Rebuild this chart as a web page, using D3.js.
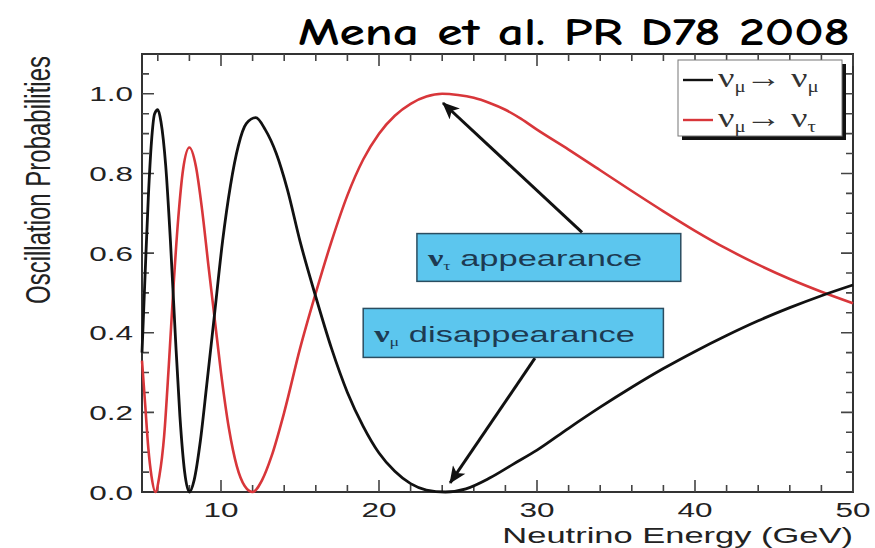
<!DOCTYPE html>
<html>
<head>
<meta charset="utf-8">
<script src="https://cdn.jsdelivr.net/npm/d3@7"></script>
<style>
  body { margin: 0; background: #fff; }
  svg { display: block; }
</style>
</head>
<body>
<svg id="chart" width="875" height="548"></svg>
<script>
// nu_mu -> nu_mu survival probability vs neutrino energy (GeV)
const survivalEnergy = [5.0, 5.2, 5.4, 5.6, 5.8, 6.0, 6.2, 6.5, 6.8, 7.1, 7.4, 7.7, 8.0,
  8.3, 8.7, 9.1, 9.6, 10.1, 10.6, 11.1, 11.6, 12.2, 12.8, 13.5, 14.2, 15.0, 16.0, 17.0,
  18.0, 19.0, 20.0, 21.0, 22.0, 23.0, 24.2, 25.5, 27.0, 28.5, 30.0, 32.0, 34.0, 36.0,
  38.0, 40.0, 42.0, 44.0, 46.0, 48.0, 50.0];
const survivalProb = [0.35, 0.55, 0.74, 0.88, 0.95, 0.96, 0.93, 0.82, 0.63, 0.40, 0.19, 0.05, 0.0,
  0.03, 0.13, 0.27, 0.45, 0.63, 0.77, 0.87, 0.925, 0.94, 0.91, 0.85, 0.76, 0.63, 0.49, 0.36,
  0.25, 0.165, 0.098, 0.052, 0.021, 0.005, 0.0, 0.008, 0.035, 0.07, 0.105, 0.16, 0.213, 0.263,
  0.31, 0.353, 0.393, 0.43, 0.463, 0.493, 0.52];

// nu_mu -> nu_tau appearance probability vs neutrino energy (GeV)
const appearEnergy = [5.0, 5.2, 5.4, 5.6, 5.85, 6.1, 6.4, 6.7, 7.0, 7.3, 7.6, 8.0, 8.4, 8.8,
  9.2, 9.6, 10.0, 10.5, 11.0, 11.5, 12.0, 12.6, 13.2, 14.0, 15.0, 16.0, 17.0, 18.0, 19.0,
  20.0, 21.0, 22.0, 23.0, 24.0, 25.0, 26.0, 27.0, 28.0, 29.0, 30.0, 32.0, 34.0, 36.0, 38.0,
  40.0, 42.0, 44.0, 46.0, 48.0, 50.0];
const appearProb = [0.33, 0.22, 0.11, 0.04, 0.0, 0.04, 0.14, 0.32, 0.52, 0.69, 0.81, 0.865, 0.82, 0.71,
  0.57, 0.435, 0.30, 0.16, 0.065, 0.015, 0.0, 0.03, 0.09, 0.20, 0.36, 0.50, 0.63, 0.745, 0.835,
  0.90, 0.945, 0.975, 0.993, 1.0, 0.997, 0.99, 0.977, 0.96, 0.937, 0.91, 0.86, 0.808, 0.756, 0.705,
  0.656, 0.611, 0.571, 0.535, 0.503, 0.474];

const xMajorTicks = [10, 20, 30, 40, 50];
const xTickLabels = ["10", "20", "30", "40", "50"];
const yMajorTicks = [0, 0.2, 0.4, 0.6, 0.8, 1.0];
const yTickLabels = ["0.0", "0.2", "0.4", "0.6", "0.8", "1.0"];

const W = 875, H = 548;
const margin = { left: 142, right: 22, top: 54, bottom: 56 };
const svg = d3.select("#chart");

const x = d3.scaleLinear().domain([5, 50]).range([margin.left, W - margin.right]);
const y = d3.scaleLinear().domain([0, 1.1]).range([H - margin.bottom, margin.top]);

const SANS = "'Liberation Sans', Arial, Helvetica, sans-serif";
const SERIF = "'Liberation Serif', 'Times New Roman', serif";
const STRETCH = 1.5;   // wide lettering used throughout the figure

const bottomY = y(0), topY = y(1.1), leftX = x(5), rightX = x(50);

// ---------- frame ----------
svg.append("rect")
  .attr("x", leftX).attr("y", topY)
  .attr("width", rightX - leftX).attr("height", bottomY - topY)
  .attr("fill", "none").attr("stroke", "#333").attr("stroke-width", 2);

// ---------- ticks on all four sides, pointing inward (one path) ----------
const xTickSet = d3.range(6, 51, 2).map(v => ({ v, len: v % 10 === 0 ? 12 : 7 }));
const yTickSet = d3.range(1, 22).map(i => ({ v: i * 0.05, len: (i % 4 === 0) ? 12 : 7 }));
const tickPath = d3.path();
xTickSet.forEach(d => {
  const px = x(d.v);
  tickPath.moveTo(px, bottomY); tickPath.lineTo(px, bottomY - d.len);
  tickPath.moveTo(px, topY);    tickPath.lineTo(px, topY + d.len);
});
yTickSet.forEach(d => {
  const py = y(d.v);
  tickPath.moveTo(leftX, py);  tickPath.lineTo(leftX + d.len, py);
  tickPath.moveTo(rightX, py); tickPath.lineTo(rightX - d.len, py);
});
svg.append("path")
  .attr("d", tickPath.toString())
  .attr("fill", "none")
  .attr("stroke", "#444")
  .attr("stroke-width", 1.6);

// ---------- curves ----------
const line = d3.line()
  .x(d => x(d[0]))
  .y(d => y(d[1]))
  .curve(d3.curveMonotoneX);

const plot = svg.append("g");
plot.append("path")
  .datum(appearEnergy.map((e, i) => [e, appearProb[i]]))
  .attr("d", line)
  .attr("fill", "none")
  .attr("stroke", "#d8363a")
  .attr("stroke-width", 2.6);
plot.append("path")
  .datum(survivalEnergy.map((e, i) => [e, survivalProb[i]]))
  .attr("d", line)
  .attr("fill", "none")
  .attr("stroke", "#111")
  .attr("stroke-width", 2.8);

// ---------- tick labels ----------
function wideText(px, py, anchor, size, txt, fill) {
  return svg.append("text")
    .attr("transform", `translate(${px},${py}) scale(${STRETCH},1)`)
    .attr("text-anchor", anchor)
    .attr("font-family", SANS)
    .attr("font-size", size)
    .attr("fill", fill || "#222")
    .text(txt);
}
yMajorTicks.forEach((v, i) => wideText(leftX - 9, y(v) + 7.5, "end", 21, yTickLabels[i]));
xMajorTicks.forEach((v, i) => wideText(x(v), bottomY + 25, "middle", 21, xTickLabels[i]));

// ---------- axis titles ----------
wideText(rightX, bottomY + 51, "end", 23, "Neutrino Energy (GeV)");
svg.append("text")
  .attr("transform", `translate(50,180) scale(${STRETCH},1) rotate(-90)`)
  .attr("text-anchor", "middle")
  .attr("font-family", SANS)
  .attr("font-size", 24)
  .attr("fill", "#222")
  .text("Oscillation Probabilities");

// ---------- citation heading ----------
svg.append("text")
  .attr("x", 298).attr("y", 45)
  .attr("textLength", 552)
  .attr("lengthAdjust", "spacingAndGlyphs")
  .attr("font-family", "'Comic Sans MS', 'Comic Neue', 'DejaVu Sans', sans-serif")
  .attr("font-weight", "bold")
  .attr("font-size", 38)
  .attr("fill", "#000")
  .text("Mena  et  al.  PR  D78  2008");

// ---------- legend ----------
const legend = svg.append("g").attr("transform", "translate(678,60)");
legend.append("rect").attr("x", 4).attr("y", 4).attr("width", 164).attr("height", 76).attr("fill", "#111");
legend.append("rect").attr("x", 0).attr("y", 0).attr("width", 164).attr("height", 76)
  .attr("fill", "#fff").attr("stroke", "#777").attr("stroke-width", 1);
const legendItems = [
  { color: "#111", final: "μ" },
  { color: "#d8363a", final: "τ" }
];
legendItems.forEach((it, i) => {
  const ly = 20 + i * 40;
  legend.append("line").attr("x1", 5).attr("x2", 35).attr("y1", ly).attr("y2", ly)
    .attr("stroke", it.color).attr("stroke-width", 2.4);
  const t = legend.append("text")
    .attr("transform", `translate(40,${ly + 7}) scale(1.3,1)`)
    .attr("font-family", SERIF).attr("font-size", 28).attr("fill", "#333");
  t.append("tspan").text("ν");
  t.append("tspan").attr("font-size", 16).attr("dy", 5).text("μ");
  t.append("tspan").attr("dy", -5).attr("font-size", 28).text("→ ");
  t.append("tspan").attr("font-size", 28).text("ν");
  t.append("tspan").attr("font-size", 16).attr("dy", 5).text(it.final);
});

// ---------- annotation boxes with arrows ----------
const defs = svg.append("defs");
defs.append("marker")
  .attr("id", "head")
  .attr("viewBox", "0 0 16 14")
  .attr("refX", 15).attr("refY", 7)
  .attr("markerUnits", "userSpaceOnUse")
  .attr("markerWidth", 18).attr("markerHeight", 15)
  .attr("orient", "auto")
  .append("path").attr("d", "M0,0 L16,7 L0,14 L4,7 Z").attr("fill", "#111");

const notes = [
  { sub: "τ", label: "appearance", box: [22.4, 0.649, 39.1, 0.529],
    from: [32.85, 0.652], to: [24.05, 0.977] },
  { sub: "μ", label: "disappearance", box: [19.0, 0.461, 38.0, 0.338],
    from: [29.87, 0.336], to: [24.5, 0.023] }
];
notes.forEach(n => {
  svg.append("line")
    .attr("x1", x(n.from[0])).attr("y1", y(n.from[1]))
    .attr("x2", x(n.to[0])).attr("y2", y(n.to[1]))
    .attr("stroke", "#111").attr("stroke-width", 3)
    .attr("marker-end", "url(#head)");
  const [e0, p0, e1, p1] = n.box;
  svg.append("rect")
    .attr("x", x(e0)).attr("y", y(p0))
    .attr("width", x(e1) - x(e0)).attr("height", y(p1) - y(p0))
    .attr("fill", "#5cc6ee").attr("stroke", "#2b4d60").attr("stroke-width", 1.5);
  const t = svg.append("text")
    .attr("transform", `translate(${x(e0) + 11},${(y(p0) + y(p1)) / 2 + 9}) scale(1.5,1)`)
    .attr("font-family", SANS).attr("font-size", 23).attr("fill", "#1d3a52");
  t.append("tspan").attr("font-family", SERIF).attr("font-weight", "bold").text("ν");
  t.append("tspan").attr("font-family", SERIF).attr("font-size", 12).attr("dy", 4).text(n.sub);
  t.append("tspan").attr("dy", -4).text(" " + n.label);
});
</script>
</body>
</html>
